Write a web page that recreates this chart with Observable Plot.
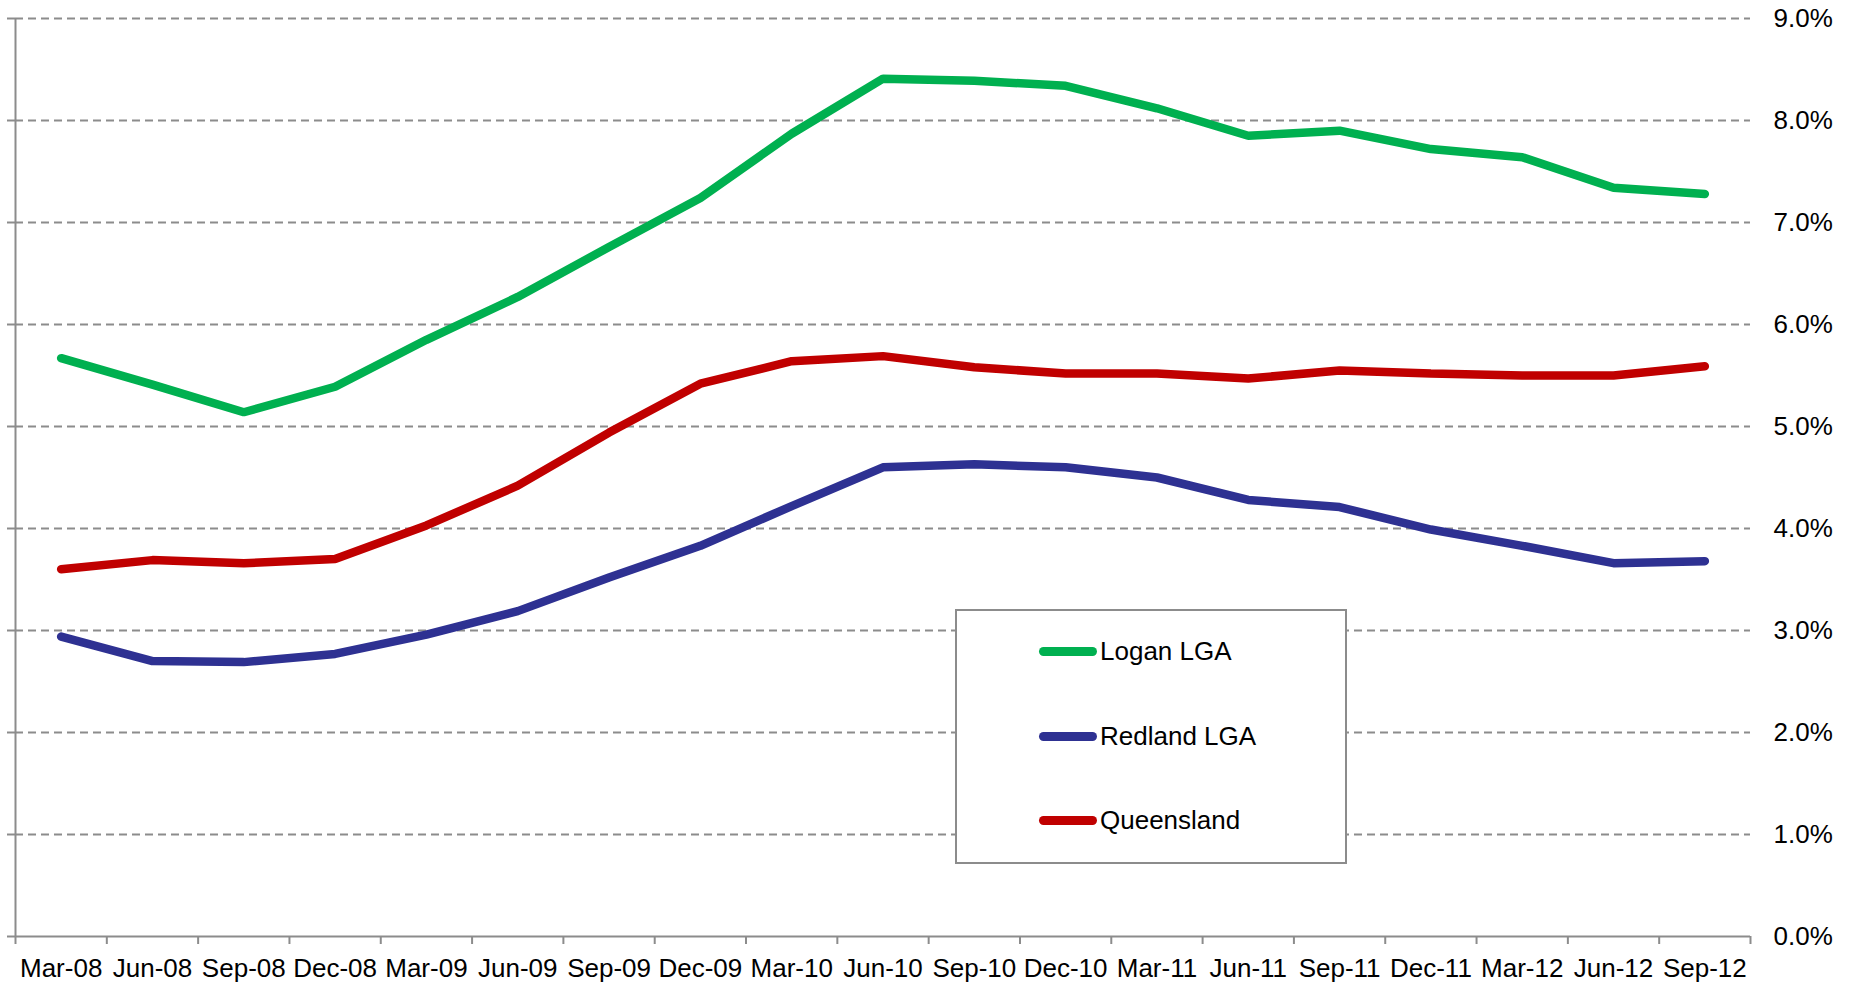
<!DOCTYPE html>
<html>
<head>
<meta charset="utf-8">
<script src="https://cdn.jsdelivr.net/npm/d3@7"></script>
<script src="https://cdn.jsdelivr.net/npm/@observablehq/plot@0.6"></script>
<style>
  html, body { margin: 0; padding: 0; background: #fff; }
  #wrap { position: relative; width: 1849px; height: 986px; font-family: "Liberation Sans", Arial, sans-serif; }
  #legend { position: absolute; left: 955px; top: 609px; width: 388px; height: 251px; border: 2px solid #8c8c8c; background: #fff; }
  .item { position: absolute; left: 82px; height: 30px; display: flex; align-items: center; font-size: 26px; color: #000; }
  .swatch { width: 58px; height: 9px; border-radius: 5px; margin-right: 3px; }
</style>
</head>
<body>
<div id="wrap"></div>
<script>
const quarters = ["Mar-08","Jun-08","Sep-08","Dec-08","Mar-09","Jun-09","Sep-09","Dec-09","Mar-10","Jun-10","Sep-10","Dec-10","Mar-11","Jun-11","Sep-11","Dec-11","Mar-12","Jun-12","Sep-12"];
const logan = [5.67,5.41,5.14,5.39,5.85,6.27,6.76,7.24,7.87,8.41,8.39,8.34,8.12,7.85,7.90,7.72,7.64,7.34,7.28];
const redland = [2.94,2.70,2.69,2.77,2.96,3.19,3.52,3.83,4.22,4.60,4.63,4.60,4.50,4.28,4.21,3.99,3.83,3.66,3.68];
const queensland = [3.60,3.69,3.66,3.70,4.03,4.42,4.94,5.42,5.64,5.69,5.58,5.52,5.52,5.47,5.55,5.52,5.50,5.50,5.59];
const seriesNames = ["Logan LGA","Redland LGA","Queensland"];
const seriesColors = ["#00b050","#2e3192","#c00000"];
const yTicks = [0,1,2,3,4,5,6,7,8,9];

const seriesValues = [logan, redland, queensland];
const rows = [];
seriesNames.forEach((name, s) => {
  seriesValues[s].forEach((v, i) => rows.push({series: name, i, value: v}));
});
const idx = quarters.map((_, i) => i);
const bounds = quarters.map((_, i) => i - 0.5).concat([quarters.length - 0.5]);

const gray = "#8c8c8c";
const chart = Plot.plot({
  width: 1849,
  height: 986,
  marginLeft: 15,
  marginRight: 99,
  marginTop: 18,
  marginBottom: 50,
  style: {fontFamily: "'Liberation Sans', Arial, sans-serif", fontSize: "26px", color: "#000", background: "#fff", overflow: "visible"},
  x: {type: "linear", domain: [-0.5, quarters.length - 0.5]},
  y: {domain: [0, 9]},
  color: {domain: seriesNames, range: seriesColors},
  marks: [
    Plot.ruleY(yTicks.filter(d => d > 0), {stroke: gray, strokeWidth: 2, strokeDasharray: "8,5"}),
    Plot.ruleY([0], {stroke: gray, strokeWidth: 2}),
    Plot.ruleX([-0.5], {stroke: gray, strokeWidth: 2}),
    Plot.axisY({anchor: "left", ticks: yTicks, tickSize: 8, tickFormat: () => "", stroke: gray, strokeWidth: 2, label: null}),
    Plot.axisY({anchor: "right", ticks: yTicks, tickSize: 0, tickPadding: 23, tickFormat: d => d.toFixed(1) + "%", fontSize: 26, fill: "#000", label: null}),
    Plot.axisX({ticks: bounds, tickSize: 8, tickFormat: () => "", stroke: gray, strokeWidth: 2, label: null}),
    Plot.axisX({ticks: idx, tickSize: 0, tickPadding: 22, tickFormat: i => quarters[i], fontSize: 26, fill: "#000", label: null}),
    Plot.line(rows, {x: "i", y: "value", z: "series", stroke: "series", strokeWidth: 8.5, strokeLinecap: "round", strokeLinejoin: "miter"})
  ]
});
const wrap = document.getElementById("wrap");
wrap.appendChild(chart);

const legend = document.createElement("div");
legend.id = "legend";
const tops = [25, 110, 194];
seriesNames.forEach((name, s) => {
  const item = document.createElement("div");
  item.className = "item";
  item.style.top = tops[s] + "px";
  const sw = document.createElement("div");
  sw.className = "swatch";
  sw.style.background = seriesColors[s];
  const label = document.createElement("span");
  label.textContent = name;
  item.appendChild(sw);
  item.appendChild(label);
  legend.appendChild(item);
});
wrap.appendChild(legend);
</script>
</body>
</html>
